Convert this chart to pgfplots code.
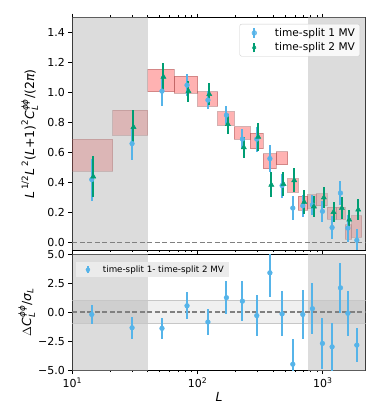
\documentclass[border=0pt]{standalone}
\usepackage{fontspec}
\setmainfont{DejaVu Sans}
\usepackage{amsmath}
\usepackage{pgfplots}
\pgfplotsset{compat=1.18}
\usepackage{pgfplotstable}

\definecolor{tsone}{HTML}{56B4E9}
\definecolor{tstwo}{HTML}{009E73}
\definecolor{boxedge}{HTML}{A05050}

% time-split 1: bin centre, value (1e-6), error
\pgfplotstableread{
L v e
14.3 0.42 0.140
30.0 0.66 0.110
52.0 1.01 0.100
82.4 1.05 0.075
121 0.95 0.060
170 0.85 0.060
228 0.69 0.067
297 0.69 0.083
378 0.56 0.090
473 0.38 0.080
576 0.23 0.078
692 0.245 0.075
826 0.25 0.065
993 0.208 0.070
1186 0.10 0.075
1383 0.33 0.078
1585 0.096 0.090
1868 0.015 0.075
}\splitone

% time-split 2, drawn slightly to the right
\pgfplotstableread{
L v e
14.7 0.44 0.135
30.8 0.77 0.115
53.4 1.105 0.095
84.6 1.01 0.070
124 0.99 0.075
174.5 0.79 0.067
234 0.635 0.068
305 0.705 0.092
388 0.385 0.084
485 0.39 0.078
591 0.415 0.080
710 0.27 0.080
848 0.24 0.070
1019 0.30 0.068
1217 0.203 0.068
1419 0.23 0.072
1626 0.152 0.068
1917 0.219 0.068
}\splittwo

% difference in units of sigma
\pgfplotstableread{
L v e
14.3 -0.20 0.85
30.0 -1.35 0.95
52.0 -1.40 0.90
82.4 0.55 1.15
121 -0.85 1.15
170 1.25 1.45
228 0.95 1.75
297 -0.30 1.75
378 3.40 2.05
473 -0.15 1.95
576 -4.50 2.20
692 -0.20 2.15
826 0.30 2.20
993 -2.70 2.20
1186 -3.00 2.05
1383 2.10 2.15
1585 -0.10 1.95
1868 -2.85 1.45
}\diffdata

\newcommand{\binbox}[4]{%
  \addplot[fill=red, fill opacity=0.3, draw=boxedge, draw opacity=0.45,
    line width=0.9pt, forget plot] coordinates {(#1,#3) (#2,#3) (#2,#4) (#1,#4)} -- cycle;}

\begin{document}
\begin{tikzpicture}
\useasboundingbox (0,0) rectangle (373pt,414pt);

% upper panel
\begin{axis}[
  scale only axis, width=293.4pt, height=232.3pt,
  at={(72.3pt,164pt)}, anchor=south west,
  xmode=log, xmin=10, xmax=2200,
  ymin=-0.05, ymax=1.5,
  tick align=outside, ytick pos=left, xtick pos=both,
  major tick length=4pt, minor tick length=2.2pt,
  every tick/.style={black, line width=0.8pt},
  axis line style={line width=0.9pt},
  tick label style={font=\fontsize{11}{13}\selectfont},
  ytick={0,0.2,0.4,0.6,0.8,1.0,1.2,1.4},
  yticklabels={0.0,0.2,0.4,0.6,0.8,1.0,1.2,1.4},
  xticklabels={},
  ylabel={$\textit{L}^{\,\text{1/2}}\textit{L}^{\,\text{2}}\text{(}\textit{L}\text{+1)}^{\text{2}}\textit{C}_{\textit{L}}^{\textit{ϕϕ}}\text{/(2}\textit{π}\text{)}$},
  every axis y label/.style={at={(axis description cs:-0.145,0.5)}, rotate=90, anchor=center,
    font=\fontsize{12.5}{14}\selectfont},
  legend style={at={(0.981,0.973)}, anchor=north east, draw=black!20, rounded corners=2pt,
    fill=white, fill opacity=0.8, text opacity=1, font=\fontsize{10.6}{12.5}\selectfont,
    inner xsep=3pt, inner ysep=2pt, row sep=1pt},
  legend cell align=left,
]
\binbox{8}{21}{0.476}{0.688}
\binbox{21}{40}{0.716}{0.882}
\binbox{40}{65}{1.007}{1.155}
\binbox{65}{100}{0.996}{1.108}
\binbox{100}{145}{0.911}{1.007}
\binbox{145}{197}{0.782}{0.873}
\binbox{197}{262}{0.688}{0.773}
\binbox{262}{336}{0.626}{0.728}
\binbox{336}{424}{0.492}{0.592}
\binbox{424}{525}{0.520}{0.605}
\binbox{525}{638}{0.335}{0.425}
\binbox{638}{759}{0.214}{0.308}
\binbox{759}{883}{0.230}{0.319}
\binbox{883}{1089}{0.246}{0.326}
\binbox{1089}{1295}{0.157}{0.237}
\binbox{1295}{1508}{0.157}{0.237}
\binbox{1508}{1706}{0.023}{0.119}
\binbox{1706}{2047}{0.036}{0.179}
% excluded ranges
\addplot[fill=black!27, fill opacity=0.5, draw=none, forget plot]
  coordinates {(10,-1) (40,-1) (40,2) (10,2)} -- cycle;
\addplot[fill=black!27, fill opacity=0.5, draw=none, forget plot]
  coordinates {(760,-1) (2200,-1) (2200,2) (760,2)} -- cycle;
\addplot[gray, line width=1.4pt, dash pattern=on 5pt off 2.5pt, forget plot]
  coordinates {(10,0) (2200,0)};
\addplot[only marks, mark=*, mark size=2.4pt, color=tsone, forget plot,
  error bars/.cd, y dir=both, y explicit, error mark=none,
  error bar style={line width=2pt, color=tsone}]
  table[x=L, y=v, y error=e] {\splitone};
\addplot[only marks, mark=triangle*, mark size=3pt, color=tstwo, forget plot,
  error bars/.cd, y dir=both, y explicit, error mark=none,
  error bar style={line width=2pt, color=tstwo}]
  table[x=L, y=v, y error=e] {\splittwo};
\addlegendimage{legend image code/.code={
    \path (0cm,0cm) (1.05cm,0cm);
    \draw[line width=2pt, color=tsone] (0.4cm,-0.17cm) -- (0.4cm,0.17cm);
    \fill[tsone] (0.4cm,0cm) circle (2.4pt);}}
\addlegendentry{time-split 1 MV}
\addlegendimage{legend image code/.code={
    \path (0cm,0cm) (1.05cm,0cm);
    \draw[line width=2pt, color=tstwo] (0.4cm,-0.17cm) -- (0.4cm,0.17cm);
    \fill[tstwo] (0.4cm,3pt) -- (0.4cm+2.6pt,-1.5pt) -- (0.4cm-2.6pt,-1.5pt) -- cycle;}}
\addlegendentry{time-split 2 MV}
\node[anchor=south west, inner sep=0pt, font=\fontsize{11}{13}\selectfont]
  at (rel axis cs:0,1) [yshift=3pt] {1e−6};
\end{axis}

% lower panel
\begin{axis}[
  scale only axis, width=293.4pt, height=115.7pt,
  at={(72.3pt,44pt)}, anchor=south west,
  xmode=log, xmin=10, xmax=2200,
  ymin=-5, ymax=5,
  tick align=outside, ytick pos=left, xtick pos=bottom,
  major tick length=4pt, minor tick length=2.2pt,
  every tick/.style={black, line width=0.8pt},
  axis line style={line width=0.9pt},
  tick label style={font=\fontsize{11}{13}\selectfont},
  ytick={-5,-2.5,0,2.5,5},
  yticklabels={−5.0,−2.5,0.0,2.5,5.0},
  xtick={10,100,1000},
  xticklabels={10\textsuperscript{1},10\textsuperscript{2},10\textsuperscript{3}},
  xlabel={\textit{L}},
  ylabel={$\Delta\textit{C}_{\textit{L}}^{\textit{ϕϕ}}\text{/}\textit{σ}_{\textit{L}}$},
  every axis x label/.style={at={(axis description cs:0.5,-0.235)}, anchor=center,
    font=\fontsize{12.5}{14}\selectfont},
  every axis y label/.style={at={(axis description cs:-0.155,0.5)}, rotate=90, anchor=center,
    font=\fontsize{12.5}{14}\selectfont},
  legend style={at={(0.0126,0.933)}, anchor=north west, draw=none,
    fill=black!8, font=\fontsize{8.7}{10}\selectfont,
    inner xsep=3pt, inner ysep=1.5pt},
  legend cell align=left,
]
\addplot[fill=black!27, fill opacity=0.5, draw=none, forget plot]
  coordinates {(10,-6) (40,-6) (40,6) (10,6)} -- cycle;
\addplot[fill=black!27, fill opacity=0.5, draw=none, forget plot]
  coordinates {(760,-6) (2200,-6) (2200,6) (760,6)} -- cycle;
\addplot[fill=black, fill opacity=0.06, draw=none, forget plot]
  coordinates {(10,-1) (2200,-1) (2200,1) (10,1)} -- cycle;
\addplot[black!22, line width=0.8pt, forget plot] coordinates {(10,1) (2200,1)};
\addplot[black!22, line width=0.8pt, forget plot] coordinates {(10,-1) (2200,-1)};
\addplot[gray, line width=1.4pt, dash pattern=on 5pt off 2.5pt, forget plot]
  coordinates {(10,0) (2200,0)};
\addplot[only marks, mark=*, mark size=2.4pt, color=tsone, forget plot,
  error bars/.cd, y dir=both, y explicit, error mark=none,
  error bar style={line width=2pt, color=tsone}]
  table[x=L, y=v, y error=e] {\diffdata};
\addlegendimage{legend image code/.code={
    \path (0cm,0cm) (0.75cm,0cm);
    \draw[line width=1.6pt, color=tsone] (0.3cm,-0.13cm) -- (0.3cm,0.13cm);
    \fill[tsone] (0.3cm,0cm) circle (2pt);}}
\addlegendentry{time-split 1- time-split 2 MV}
\end{axis}
\end{tikzpicture}
\end{document}
